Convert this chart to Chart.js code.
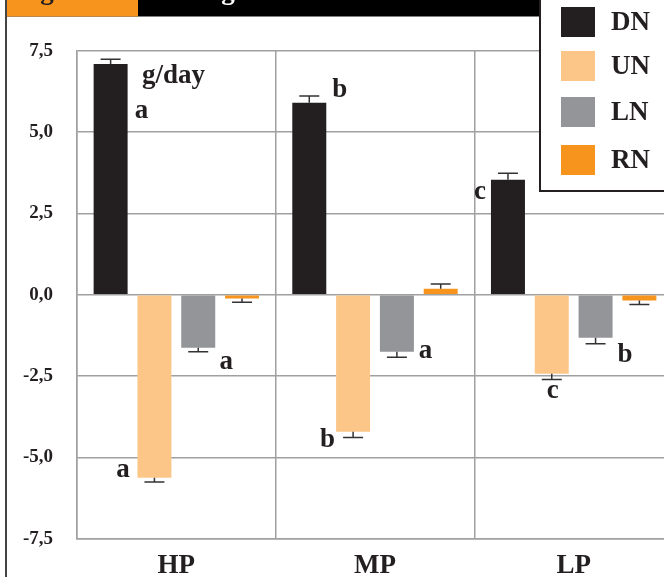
<!DOCTYPE html>
<html>
<head>
<meta charset="utf-8">
<script src="https://cdn.jsdelivr.net/npm/chart.js@4/dist/chart.umd.min.js"></script>
<style>
  html, body { margin: 0; padding: 0; background: #fff; overflow: hidden; }
  #wrap { position: absolute; left: 0; top: 0; width: 700px; height: 577px; }
</style>
</head>
<body>
<div id="wrap"><canvas id="c" width="700" height="577"></canvas></div>
<script>
// ---- data ----
const categories = ['HP', 'MP', 'LP'];
const seriesNames = ['DN', 'UN', 'LN', 'RN'];
const valuesDN = [7.09, 5.90, 3.53];
const valuesUN = [-5.63, -4.21, -2.43];
const valuesLN = [-1.63, -1.75, -1.32];
const valuesRN = [-0.12, 0.18, -0.18];
const errorsDN = [0.15, 0.21, 0.20];
const errorsUN = [0.13, 0.18, 0.18];
const errorsLN = [0.12, 0.17, 0.19];
const errorsRN = [0.11, 0.15, 0.12];
const lettersDN = ['a', 'b', 'c'];
const lettersUN = ['a', 'b', 'c'];
const lettersLN = ['a', 'a', 'b'];
const lettersRN = ['', '', ''];
const tickValues = [-7.5, -5.0, -2.5, 0.0, 2.5, 5.0, 7.5];
const tickLabels = ['-7,5', '-5,0', '-2,5', '0,0', '2,5', '5,0', '7,5'];
const unitLabel = 'g/day';

// ---- styles ----
const colors = ['#231f20', '#fcc688', '#939598', '#f7941e'];
const FONT = '"Liberation Serif", "Times New Roman", serif';
const TEXT = '#231f20';
const GRID = '#a0a0a0';

const allValues = [valuesDN, valuesUN, valuesLN, valuesRN];
const allErrors = [errorsDN, errorsUN, errorsLN, errorsRN];
const allLetters = [lettersDN, lettersUN, lettersLN, lettersRN];

// letter placement relative to bar: [anchor, dx, dy from bar end (baseline)]
const letterPlace = [
  [['R', 14, 54], ['R', 13.5, -6], ['L', -11, 19]],
  [['L', -14.5, -1], ['L', -8.5, 15], ['C', 1, 24]],
  [['R', 11, 21], ['R', 11.5, 6], ['R', 12.5, 24]],
  [null, null, null]
];

const decorPlugin = {
  id: 'decor',
  beforeDraw(chart) {
    const ctx = chart.ctx;
    ctx.save();
    ctx.fillStyle = '#fff';
    ctx.fillRect(0, 0, chart.width, chart.height);
    ctx.restore();
  },
  afterDatasetsDraw(chart) {
    const ctx = chart.ctx;
    const y = chart.scales.y;
    ctx.save();
    // error bars
    ctx.strokeStyle = '#333';
    ctx.lineWidth = 1.5;
    chart.data.datasets.forEach((ds, i) => {
      const meta = chart.getDatasetMeta(i);
      meta.data.forEach((el, j) => {
        const v = allValues[i][j];
        const e = allErrors[i][j];
        const tip = v >= 0 ? v + e : v - e;
        const yEnd = el.y;
        const yTip = y.getPixelForValue(tip);
        ctx.beginPath();
        ctx.moveTo(el.x, yEnd);
        ctx.lineTo(el.x, yTip);
        ctx.moveTo(el.x - 10, yTip);
        ctx.lineTo(el.x + 10, yTip);
        ctx.stroke();
      });
    });
    // significance letters
    ctx.fillStyle = TEXT;
    ctx.font = 'bold 27px ' + FONT;
    ctx.textAlign = 'center';
    ctx.textBaseline = 'alphabetic';
    chart.data.datasets.forEach((ds, i) => {
      const meta = chart.getDatasetMeta(i);
      meta.data.forEach((el, j) => {
        const L = allLetters[i][j];
        const p = letterPlace[i][j];
        if (!L || !p) return;
        const half = el.width / 2;
        let x = el.x;
        if (p[0] === 'R') x = el.x + half;
        if (p[0] === 'L') x = el.x - half;
        ctx.fillText(L, x + p[1], el.y + p[2]);
      });
    });
    // unit label
    const ca = chart.chartArea;
    ctx.textAlign = 'left';
    ctx.font = 'bold 27px ' + FONT;
    ctx.fillText(unitLabel, ca.left + 65, ca.top + 32);
    ctx.restore();
  },
  afterDraw(chart) {
    const ctx = chart.ctx;
    ctx.save();
    // header bars (cut-off title strip)
    ctx.fillStyle = '#000';
    ctx.fillRect(6, 0, 533, 16.5);
    ctx.fillStyle = '#f7941e';
    ctx.fillRect(6, 0, 132, 16.5);
    ctx.font = 'bold 27px ' + FONT;
    ctx.textAlign = 'center';
    ctx.textBaseline = 'alphabetic';
    ctx.fillStyle = '#231f20';
    ctx.fillText('g', 47, -1);
    ctx.fillStyle = '#fff';
    ctx.fillText('g', 228, -1);
    // left frame line
    ctx.fillStyle = '#444';
    ctx.fillRect(5, 0, 2, chart.height);
    // legend box
    ctx.fillStyle = '#fff';
    ctx.fillRect(539, -5, 200, 197);
    ctx.strokeStyle = '#231f20';
    ctx.lineWidth = 2;
    ctx.strokeRect(540, -5, 200, 196);
    const rowY = [22, 66, 112, 160];
    chart.data.datasets.forEach((ds, i) => {
      ctx.fillStyle = ds.backgroundColor;
      ctx.fillRect(561, rowY[i] - 15, 34, 30);
      ctx.fillStyle = TEXT;
      ctx.font = 'bold 27px ' + FONT;
      ctx.textAlign = 'left';
      ctx.textBaseline = 'middle';
      ctx.fillText(ds.label, 611, rowY[i] + 1);
    });
    ctx.restore();
  }
};

new Chart(document.getElementById('c'), {
  type: 'bar',
  data: {
    labels: categories,
    datasets: seriesNames.map((n, i) => ({
      label: n,
      data: allValues[i],
      backgroundColor: colors[i],
      borderWidth: 0,
      categoryPercentage: 0.882,
      barPercentage: 0.776
    }))
  },
  options: {
    responsive: false,
    animation: false,
    devicePixelRatio: 1,
    layout: { padding: { left: 0, right: 27, top: 50.7, bottom: 0 } },
    plugins: { legend: { display: false }, tooltip: { enabled: false } },
    scales: {
      x: {
        grid: { display: true, color: GRID, lineWidth: 1.5, drawTicks: false, offset: true },
        border: { display: true, color: GRID, width: 1.5 },
        ticks: { color: TEXT, font: { family: FONT, size: 27, weight: 'bold' }, padding: 11 },
        afterFit(s) { s.height = 38.3; }
      },
      y: {
        min: -7.5, max: 7.5,
        afterBuildTicks(s) { s.ticks = tickValues.map(v => ({ value: v })); },
        grid: { color: GRID, lineWidth: 1.5, drawTicks: false },
        border: { display: true, color: GRID, width: 1.5 },
        ticks: {
          color: TEXT,
          font: { family: FONT, size: 19, weight: 'bold' },
          padding: 24,
          callback(v) { const k = tickValues.indexOf(v); return k >= 0 ? tickLabels[k] : ''; }
        },
        afterFit(s) { s.width = 77; }
      }
    }
  },
  plugins: [decorPlugin]
});
</script>
</body>
</html>
